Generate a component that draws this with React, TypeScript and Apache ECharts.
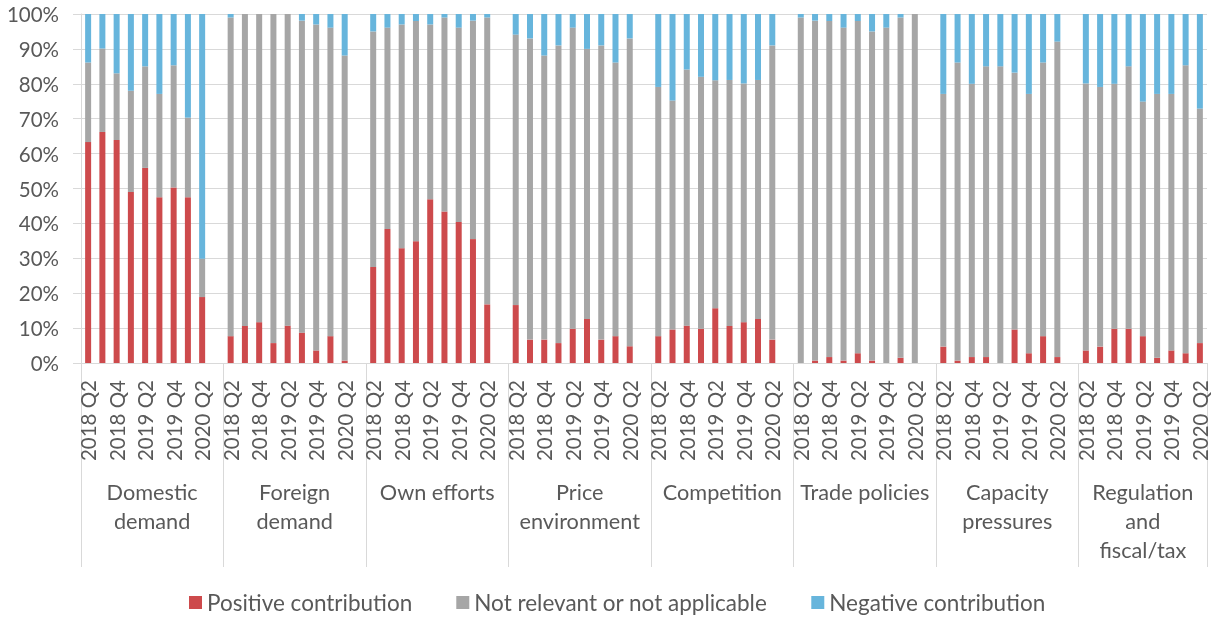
import React, { useEffect, useRef } from "react";
import * as echarts from "echarts";

const quarters = ["2018 Q2", "2018 Q3", "2018 Q4", "2019 Q1", "2019 Q2", "2019 Q3", "2019 Q4", "2020 Q1", "2020 Q2"];
const labelledQuarters = ["2018 Q2", "2018 Q4", "2019 Q2", "2019 Q4", "2020 Q2"];
const groups = ["Domestic demand", "Foreign demand", "Own efforts", "Price environment", "Competition", "Trade policies", "Capacity pressures", "Regulation and fiscal/tax"];
const groupLabels = ["Domestic\ndemand", "Foreign\ndemand", "Own efforts", "Price\nenvironment", "Competition", "Trade policies", "Capacity\npressures", "Regulation\nand\nfiscal/tax"];
const seriesNames = ["Positive contribution", "Not relevant or not applicable", "Negative contribution"];

const positive = [
  [63.3, 66.2, 63.9, 49.0, 55.9, 47.5, 50.3, 47.5, 18.9],
  [7.7, 10.6, 11.7, 5.7, 10.7, 8.7, 3.6, 7.7, 0.7],
  [27.5, 38.4, 32.9, 34.9, 46.9, 43.4, 40.4, 35.5, 16.8],
  [16.6, 6.7, 6.7, 5.7, 9.8, 12.6, 6.7, 7.7, 4.8],
  [7.7, 9.6, 10.7, 9.8, 15.7, 10.6, 11.7, 12.6, 6.7],
  [0, 0.7, 1.7, 0.7, 2.8, 0.7, 0, 1.5, 0],
  [4.7, 0.7, 1.7, 1.7, 0, 9.6, 2.8, 7.7, 1.7],
  [3.6, 4.7, 9.8, 9.8, 7.7, 1.5, 3.6, 2.8, 5.7],
];
const notRelevant = [
  [22.8, 23.9, 19.1, 29.0, 29.1, 29.6, 35.0, 22.8, 11.0],
  [91.3, 89.4, 88.3, 94.3, 89.3, 89.4, 93.4, 88.4, 87.4],
  [67.5, 57.7, 64.1, 63.1, 50.1, 55.6, 55.7, 62.6, 82.2],
  [77.5, 86.3, 81.4, 85.3, 86.3, 77.4, 84.3, 78.4, 88.2],
  [71.4, 65.6, 73.4, 72.2, 65.3, 70.5, 68.4, 68.5, 84.3],
  [99.0, 97.4, 96.3, 95.4, 95.2, 94.3, 96.1, 97.5, 100],
  [72.4, 85.4, 78.3, 83.3, 85.0, 73.6, 74.3, 78.4, 90.4],
  [76.5, 74.4, 70.2, 75.2, 67.2, 75.6, 73.5, 82.5, 67.2],
];
const negative = [
  [13.9, 9.9, 17.0, 22.0, 15.0, 22.9, 14.7, 29.7, 70.1],
  [1.0, 0, 0, 0, 0, 1.9, 3.0, 3.9, 11.9],
  [5.0, 3.9, 3.0, 2.0, 3.0, 1.0, 3.9, 1.9, 1.0],
  [5.9, 7.0, 11.9, 9.0, 3.9, 10.0, 9.0, 13.9, 7.0],
  [20.9, 24.8, 15.9, 18.0, 19.0, 18.9, 19.9, 18.9, 9.0],
  [1.0, 1.9, 2.0, 3.9, 2.0, 5.0, 3.9, 1.0, 0],
  [22.9, 13.9, 20.0, 15.0, 15.0, 16.8, 22.9, 13.9, 7.9],
  [19.9, 20.9, 20.0, 15.0, 25.1, 22.9, 22.9, 14.7, 27.1],
];
const yTicks = [0, 10, 20, 30, 40, 50, 60, 70, 80, 90, 100];

const COLORS = ["#CD4A4C", "#A6A6A6", "#67B5DC"];
const TEXT = "#595959";
const GRID = "#D9D9D9";
const FONT = "Lato, 'Open Sans', sans-serif";

export default function App() {
  const ref = useRef<HTMLDivElement>(null);
  useEffect(() => {
    if (!ref.current) return;
    const chart = echarts.init(ref.current, undefined, { renderer: "svg" });

    const cats: string[] = [];
    const quarterOf: string[] = [];
    const groupLabelAt: Record<number, { text: string; shift: boolean }> = {};
    const dataSets: (number | null)[][] = [[], [], []];
    const sources = [positive, notRelevant, negative];
    groups.forEach((g, gi) => {
      const start = cats.length;
      quarters.forEach((q, qi) => {
        cats.push(g + "|" + q);
        quarterOf.push(q);
        sources.forEach((s, si) => dataSets[si].push(s[gi][qi]));
      });
      const isLast = gi === groups.length - 1;
      groupLabelAt[start + 4] = { text: groupLabels[gi], shift: !isLast };
      if (!isLast) {
        cats.push("gap" + gi);
        quarterOf.push("");
        sources.forEach((_, si) => dataSets[si].push(null));
      }
    });

    chart.setOption({
      animation: false,
      textStyle: { fontFamily: FONT },
      grid: { left: 81, right: 8, top: 14, bottom: 255, containLabel: false },
      legend: {
        data: seriesNames,
        top: 591,
        left: 189,
        padding: 0,
        itemWidth: 13,
        itemHeight: 13,
        itemGap: 44,
        icon: "rect",
        textStyle: { fontSize: 22.5, color: TEXT, fontFamily: FONT },
      },
      xAxis: [
        {
          type: "category",
          data: cats,
          position: "bottom",
          axisLine: { show: true, lineStyle: { color: GRID, width: 1 } },
          axisTick: { show: false },
          axisLabel: {
            interval: 0,
            rotate: 90,
            margin: 17,
            fontSize: 20.5,
            color: TEXT,
            fontFamily: FONT,
            formatter: (_v: string, idx: number) =>
              labelledQuarters.includes(quarterOf[idx]) ? quarterOf[idx] : "",
          },
        },
        {
          type: "category",
          data: cats,
          position: "bottom",
          axisLine: { show: false },
          axisTick: {
            show: true,
            interval: (idx: number) => idx % 10 === 0,
            length: 204,
            lineStyle: { color: GRID, width: 1 },
          },
          axisLabel: {
            interval: 0,
            margin: 114,
            color: TEXT,
            fontFamily: FONT,
            formatter: (_v: string, idx: number) => {
              const g = groupLabelAt[idx];
              if (!g) return "";
              const st = g.shift ? "s" : "n";
              return g.text.split("\n").map((l) => "{" + st + "|" + l + "}").join("\n");
            },
            rich: {
              s: { fontSize: 21.7, lineHeight: 29, color: TEXT, fontFamily: FONT, padding: [0, 0, 0, 14] },
              n: { fontSize: 21.7, lineHeight: 29, color: TEXT, fontFamily: FONT },
            },
          },
        },
      ],
      yAxis: {
        type: "value",
        min: yTicks[0],
        max: yTicks[yTicks.length - 1],
        interval: 10,
        axisLine: { show: true, lineStyle: { color: GRID, width: 1 } },
        axisTick: { show: true, length: 8, lineStyle: { color: GRID, width: 1 } },
        splitLine: { show: true, lineStyle: { color: GRID, width: 1 } },
        axisLabel: {
          margin: 22,
          fontSize: 20.5,
          color: TEXT,
          fontFamily: FONT,
          formatter: "{value}%",
        },
      },
      series: seriesNames.map((name, si) => ({
        name,
        type: "bar",
        stack: "total",
        barWidth: 6,
        data: dataSets[si],
        itemStyle: { color: COLORS[si] },
        emphasis: { disabled: true },
      })),
    });
    return () => chart.dispose();
  }, []);
  return <div ref={ref} style={{ position: "fixed", left: 0, top: 0, width: 1215, height: 618 }} />;
}
